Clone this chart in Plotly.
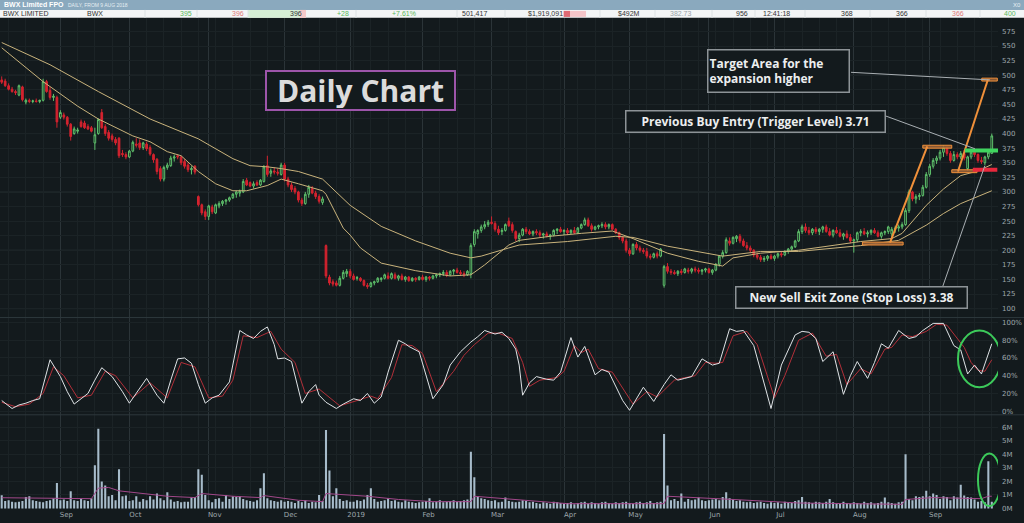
"""
BWX daily chart: candles + two moving averages, stochastic, volume
"""
import pandas as pd
import plotly.graph_objects as go
from plotly.subplots import make_subplots

# ---- data ----
holidays = ["2018-12-25", "2018-12-26", "2019-01-01", "2019-01-28",
            "2019-04-19", "2019-04-22", "2019-04-25", "2019-06-10"]

opens = [
    492, 490, 482, 476, 472, 466, 480, 454, 457, 455, 456, 455, 457, 489, 474, 462, 462,  # Aug
    428, 432, 428, 416, 400, 404, 420, 418, 412, 410, 384, 400, 436, 412, 402, 396, 390, 392, 366, 364,  # Sep
    360, 370, 382, 384, 376, 382, 376, 364, 356, 340, 322, 342, 345, 358, 362, 360, 352, 346, 338, 344, 292, 278, 266,  # Oct
    258, 274, 264, 276, 280, 284, 286, 290, 296, 298, 300, 320, 316, 310, 316, 312, 318, 345, 332, 336, 334, 330,  # Nov
    346, 322, 312, 306, 300, 286, 280, 296, 306, 298, 292, 282, 208, 154, 146, 144, 140, 152, 160,  # Dec
    164, 156, 152, 152, 148, 140, 138, 144, 146, 150, 152, 156, 152, 158, 152, 156, 150, 154, 148, 152, 150,  # Jan
    154, 150, 154, 152, 156, 158, 160, 162, 158, 164, 166, 162, 160, 158, 160, 210, 228, 234, 240, 244,  # Feb
    248, 246, 236, 232, 234, 250, 244, 232, 220, 226, 236, 232, 228, 232, 230, 226, 228, 224, 226, 234, 236,  # Mar
    232, 234, 230, 234, 230, 238, 244, 252, 242, 236, 240, 242, 244, 240, 244, 236, 230, 222, 216,  # Apr
    200, 194, 210, 204, 200, 198, 190, 188, 194, 190, 140, 172, 164, 162, 160, 164, 162, 166, 164, 168, 166, 164, 166,  # May
    168, 162, 166, 176, 190, 196, 216, 212, 220, 224, 216, 208, 204, 200, 192, 188, 184, 186, 190,  # Jun
    186, 190, 194, 192, 198, 202, 206, 216, 232, 240, 234, 230, 236, 232, 236, 240, 232, 226, 234, 230, 224, 228, 222,  # Jul
    216, 218, 230, 232, 228, 230, 234, 230, 224, 230, 232, 228, 236, 238, 240, 244, 268, 300, 288, 292, 294, 308,  # Aug
    330, 344, 354, 358, 368, 376, 366, 354, 364, 360, 366, 340, 360, 368, 364, 354, 350, 360, 366,  # Sep
]
highs = [
    498, 494, 486, 480, 475, 484, 482, 460, 460, 458, 460, 458, 494, 492, 480, 468, 465,
    440, 436, 430, 418, 412, 410, 424, 422, 416, 413, 410, 426, 442, 416, 406, 400, 394, 394, 372, 368,
    372, 388, 392, 390, 386, 386, 380, 366, 358, 344, 345, 350, 362, 364, 364, 362, 356, 350, 344, 346, 294, 280, 270,
    278, 278, 280, 284, 286, 288, 292, 298, 302, 304, 322, 324, 318, 318, 320, 322, 346, 362, 340, 342, 340, 350,
    350, 326, 316, 310, 302, 290, 300, 312, 310, 302, 296, 292, 210, 158, 150, 148, 156, 166, 168,
    168, 160, 156, 154, 150, 144, 146, 148, 154, 154, 160, 162, 162, 162, 158, 160, 156, 156, 154, 154, 156,
    158, 156, 156, 158, 160, 162, 166, 166, 166, 168, 170, 166, 164, 166, 212, 236, 236, 244, 250, 252,
    258, 250, 242, 238, 246, 256, 248, 234, 230, 238, 240, 236, 234, 236, 234, 230, 232, 228, 236, 238, 240,
    236, 238, 236, 240, 240, 246, 256, 256, 246, 242, 244, 248, 248, 246, 246, 238, 232, 224, 220,
    204, 212, 214, 208, 204, 204, 194, 196, 198, 204, 175, 178, 168, 166, 166, 168, 170, 170, 170, 172, 170, 168, 170,
    170, 168, 178, 192, 200, 222, 222, 224, 226, 228, 220, 214, 208, 202, 196, 192, 190, 192, 194,
    192, 196, 198, 200, 204, 208, 218, 236, 244, 246, 240, 238, 240, 238, 242, 244, 238, 236, 240, 236, 230, 234, 228,
    220, 232, 236, 238, 234, 236, 238, 234, 232, 234, 242, 240, 242, 244, 248, 272, 304, 302, 296, 298, 312, 334,
    348, 358, 362, 372, 380, 378, 370, 370, 368, 370, 372, 362, 372, 372, 366, 360, 362, 372, 400,
]
lows = [
    485, 480, 474, 470, 466, 464, 455, 450, 452, 452, 453, 452, 455, 470, 458, 456, 410,
    425, 424, 412, 388, 398, 400, 410, 408, 406, 402, 372, 398, 408, 396, 388, 386, 380, 358, 360, 356,
    358, 368, 376, 372, 372, 370, 362, 350, 330, 318, 318, 338, 343, 352, 356, 346, 340, 334, 330, 330, 275, 260, 252,
    252, 262, 262, 272, 276, 278, 283, 288, 290, 292, 298, 310, 308, 306, 310, 310, 316, 326, 326, 330, 328, 328,
    318, 308, 300, 296, 282, 276, 278, 290, 296, 288, 280, 278, 152, 140, 138, 138, 138, 150, 154,
    152, 148, 148, 146, 138, 134, 136, 140, 144, 146, 150, 150, 150, 150, 148, 148, 146, 146, 146, 146, 148,
    148, 146, 148, 150, 152, 154, 156, 154, 156, 158, 160, 156, 154, 156, 152, 206, 220, 230, 236, 240,
    244, 232, 226, 226, 232, 240, 230, 216, 214, 224, 228, 226, 224, 226, 222, 220, 222, 218, 224, 228, 230,
    226, 226, 228, 228, 228, 236, 242, 240, 232, 234, 236, 238, 236, 236, 234, 228, 218, 212, 196,
    190, 192, 200, 196, 194, 186, 184, 186, 186, 188, 136, 160, 158, 158, 156, 158, 160, 160, 160, 162, 160, 158, 162,
    160, 158, 164, 172, 186, 194, 208, 210, 214, 212, 206, 200, 196, 188, 184, 180, 180, 182, 184,
    182, 186, 188, 190, 194, 198, 204, 214, 228, 230, 226, 226, 228, 226, 230, 230, 224, 222, 228, 222, 218, 220, 212,
    196, 214, 224, 226, 222, 226, 228, 222, 220, 226, 228, 222, 230, 232, 236, 242, 264, 284, 280, 286, 292, 306,
    326, 340, 348, 354, 360, 362, 350, 352, 356, 356, 354, 336, 356, 360, 350, 348, 346, 356, 366,
]
closes = [
    488, 482, 476, 472, 470, 482, 458, 457, 455, 456, 455, 457, 489, 472, 462, 464, 420,
    436, 428, 416, 395, 408, 406, 412, 410, 408, 404, 398, 424, 410, 400, 392, 390, 384, 362, 364, 360,
    370, 385, 380, 376, 384, 374, 365, 355, 335, 322, 342, 346, 358, 360, 360, 350, 344, 338, 340, 334, 278, 264, 258,
    276, 266, 278, 280, 284, 286, 290, 296, 300, 301, 318, 312, 310, 314, 312, 320, 343, 330, 336, 334, 332, 346,
    322, 312, 304, 300, 286, 280, 296, 308, 298, 292, 284, 288, 156, 144, 142, 140, 152, 162, 164,
    156, 150, 153, 148, 140, 138, 144, 146, 152, 152, 158, 152, 160, 152, 156, 150, 154, 148, 152, 150, 154,
    150, 154, 152, 156, 158, 160, 162, 158, 164, 166, 162, 160, 158, 164, 208, 232, 234, 240, 244, 248,
    246, 236, 230, 234, 244, 242, 234, 220, 226, 236, 232, 228, 232, 230, 226, 228, 224, 226, 234, 236, 232,
    234, 230, 234, 230, 238, 244, 252, 242, 236, 240, 242, 244, 240, 244, 236, 230, 222, 216, 200,
    194, 210, 204, 200, 198, 190, 188, 194, 190, 202, 172, 164, 162, 160, 164, 162, 168, 164, 168, 166, 164, 166, 168,
    162, 166, 176, 190, 196, 218, 212, 222, 224, 216, 208, 204, 200, 192, 188, 184, 186, 190, 186,
    190, 194, 192, 198, 202, 206, 216, 232, 240, 234, 230, 236, 232, 236, 240, 232, 226, 234, 230, 224, 228, 222, 216,
    218, 230, 232, 228, 230, 234, 230, 224, 230, 232, 240, 236, 238, 240, 244, 268, 300, 288, 292, 294, 308, 330,
    344, 354, 358, 368, 376, 366, 354, 364, 360, 366, 358, 360, 368, 364, 354, 352, 360, 368, 396,
]
volume_m = [
    0.98, 0.55, 0.6, 0.5, 0.45, 0.5, 0.55, 0.85, 0.9, 0.6, 0.55, 0.5, 0.45, 0.55, 0.6, 0.75, 1.88,
    0.6, 0.65, 0.55, 1.27, 0.6, 0.55, 0.7, 0.6, 0.55, 0.75, 3.2, 5.9, 2.0, 1.7, 0.9, 1.0, 0.6, 2.9, 0.9, 0.95,
    0.55, 0.6, 0.9, 0.5, 0.7, 0.6, 0.9, 0.65, 1.1, 0.75, 0.6, 1.2, 0.65, 0.5, 0.55, 0.45, 0.5, 0.5, 0.8, 0.85, 2.9, 2.5, 1.0,
    0.6, 0.45, 0.7, 0.75, 0.5, 1.0, 0.7, 0.9, 0.85, 0.9, 0.7, 0.6, 0.55, 0.5, 0.6, 1.5, 2.6, 0.75, 0.6, 0.55, 0.5, 0.6,
    0.5, 0.55, 0.5, 0.4, 0.55, 0.45, 0.6, 0.4, 0.5, 0.45, 1.0, 0.55, 5.8, 2.8, 0.9, 1.5, 0.7, 0.55, 0.6,
    0.5, 0.5, 0.6, 0.55, 0.65, 1.0, 1.5, 0.7, 0.5, 0.55, 0.6, 0.75, 0.55, 0.6, 0.5, 0.45, 0.6, 0.5, 0.45, 0.4, 0.45,
    0.5, 0.55, 0.75, 0.45, 0.5, 0.6, 0.45, 0.5, 0.55, 0.6, 0.5, 0.55, 0.6, 0.65, 4.2, 2.3, 0.9, 0.75, 0.7, 0.6,
    0.55, 0.6, 0.45, 0.5, 0.8, 0.55, 0.5, 0.45, 0.5, 0.6, 0.55, 0.45, 0.5, 0.4, 0.35, 0.45, 0.4, 0.35, 0.5, 0.45, 0.4,
    0.35, 0.4, 0.45, 0.3, 0.4, 0.45, 0.5, 0.35, 0.45, 0.4, 0.35, 0.45, 0.5, 0.4, 0.35, 0.45, 0.4, 0.45, 0.5,
    0.4, 0.35, 0.45, 0.5, 0.4, 0.45, 0.55, 0.4, 0.45, 0.5, 5.5, 1.7, 0.6, 0.7, 0.55, 1.1, 0.5, 0.7, 0.6, 0.65, 0.8, 0.6, 0.55,
    0.6, 0.65, 0.7, 0.6, 0.85, 1.2, 0.75, 0.7, 0.55, 0.6, 0.5, 0.45, 0.5, 0.4, 0.45, 0.5, 0.4, 0.35, 0.45,
    0.4, 0.45, 0.35, 0.5, 0.45, 0.4, 0.55, 0.6, 0.85, 0.5, 0.45, 0.4, 0.5, 0.45, 0.4, 0.5, 0.7, 0.45, 0.4, 0.35, 0.5, 0.4, 0.35,
    0.45, 0.4, 0.35, 0.5, 0.4, 0.45, 0.35, 0.4, 0.5, 0.8, 0.45, 0.4, 0.35, 0.45, 0.5, 4.0, 0.7, 0.6, 0.9, 0.85, 0.9, 1.3,
    0.9, 1.1, 1.0, 0.7, 0.9, 0.85, 0.6, 0.9, 0.8, 1.75, 0.95, 0.85, 0.8, 0.65, 0.5, 0.55, 0.45, 3.5, 0.5,
]

# moving averages, read as (day index, price) points
fast_ma_day = [0, 12, 22, 28, 38, 43, 48, 52, 57, 62, 67, 71, 77, 81, 86, 89, 93, 94, 99, 101, 104, 110,
               120, 130, 136, 140, 147, 150, 159, 168, 177, 183, 193, 202, 209, 212, 220, 231, 240,
               249, 258, 261, 268, 273, 278, 283, 287]
fast_ma_val = [547, 489, 447, 425, 396, 386, 369, 362, 335, 314, 302, 302, 311, 322, 314, 309, 302, 296,
               238, 226, 204, 178, 165, 156, 158, 175, 209, 217, 224, 229, 233, 220, 195, 181, 173, 187,
               195, 200, 207, 215, 220, 229, 277, 305, 328, 336, 347]
slow_ma_day = [0, 14, 28, 43, 57, 67, 72, 77, 81, 86, 93, 101, 110, 120, 130, 136, 139, 144, 147, 150,
               164, 178, 183, 193, 202, 209, 220, 231, 249, 260, 268, 273, 278, 283, 287]
slow_ma_val = [556, 518, 472, 425, 391, 357, 345, 343, 340, 335, 322, 277, 241, 216, 195, 187, 190, 198,
               204, 209, 215, 224, 222, 207, 198, 190, 198, 198, 208, 217, 243, 263, 280, 292, 302]

# stochastic %K (white) and %D (red)
stoch_k_day = [0, 3, 5, 7, 9, 11, 14, 17, 19, 21, 23, 25, 27, 29, 32, 35, 37, 40, 42, 45, 47, 49, 51,
               53, 55, 57, 59, 61, 63, 66, 69, 71, 73, 75, 77, 79, 80, 82, 84, 87, 89, 91, 92, 94,
               97, 99, 102, 104, 106, 108, 110, 112, 115, 117, 118, 121, 123, 125, 128, 130, 133,
               136, 138, 140, 143, 145, 147, 149, 150, 151, 153, 155, 158, 160, 162, 165, 167, 169,
               172, 174, 176, 178, 180, 182, 184, 186, 189, 192, 194, 196, 198, 200, 203, 206, 208,
               211, 213, 215, 218, 221, 223, 226, 230, 232, 234, 236, 238, 241, 244, 246, 248, 251,
               253, 255, 257, 260, 263, 265, 267, 270, 273, 276, 278, 280, 282, 284, 287]
stoch_k_val = [12, 3, 7, 9, 12, 14, 58, 39, 22, 8, 14, 20, 35, 49, 39, 22, 9, 26, 37, 18, 9, 35, 59,
               60, 54, 30, 9, 15, 18, 33, 91, 86, 82, 90, 95, 75, 59, 60, 56, 9, 22, 30, 18, 10,
               3, 8, 14, 12, 20, 9, 16, 44, 80, 76, 73, 67, 40, 14, 30, 52, 67,
               78, 84, 91, 87, 89, 82, 70, 52, 18, 32, 39, 36, 35, 44, 83, 61, 73,
               41, 47, 44, 27, 12, 1, 14, 27, 11, 30, 41, 35, 37, 39, 59, 52, 54,
               93, 90, 91, 74, 30, 3, 52, 86, 90, 89, 82, 56, 67, 19, 40, 56, 37,
               55, 76, 71, 91, 82, 84, 91, 99, 99, 74, 69, 42, 52, 42, 76]
stoch_d_day = [0, 4, 8, 12, 15, 18, 22, 26, 30, 33, 38, 43, 48, 52, 56, 60, 64, 67, 70, 74, 78, 81, 85,
               88, 92, 95, 98, 103, 107, 109, 113, 116, 119, 122, 126, 131, 134, 137, 141, 144, 148,
               151, 153, 156, 161, 163, 166, 168, 170, 173, 177, 179, 183, 187, 190, 195, 197, 201,
               204, 207, 209, 212, 216, 219, 224, 227, 231, 235, 239, 242, 245, 249, 252, 256, 258,
               261, 264, 268, 271, 274, 277, 279, 281, 283, 285, 287]
stoch_d_val = [10, 5, 8, 20, 50, 40, 15, 18, 45, 40, 15, 32, 15, 55, 50, 15, 17, 35, 85, 83, 90, 70, 55,
               20, 25, 15, 6, 12, 17, 14, 38, 75, 74, 65, 22, 45, 63, 75, 88, 88, 82,
               55, 28, 35, 38, 45, 74, 66, 70, 48, 44, 32, 8, 22, 16, 35, 37, 40,
               55, 54, 55, 85, 90, 75, 15, 40, 80, 88, 62, 64, 30, 48, 42, 70, 72,
               86, 84, 90, 98, 97, 82, 72, 55, 46, 45, 58]

# volume moving average (millions)
vol_ma_day = [0, 26, 28, 31, 34, 38, 48, 56, 58, 67, 75, 76, 86, 93, 94, 106, 115, 125, 136, 137, 148,
              164, 192, 193, 212, 231, 261, 262, 270, 284, 286, 287]
vol_ma_val = [0.79, 0.72, 1.5, 1.55, 1.3, 1.2, 0.9, 0.8, 1.1, 0.9, 0.8, 0.95, 0.6, 0.5, 1.1, 0.9, 0.66,
              0.5, 0.5, 0.9, 0.66, 0.35, 0.35, 0.9, 0.66, 0.4, 0.3, 0.66, 0.8, 0.72, 0.9, 0.9]

# ---- trading calendar / axis ticks ----
dates = pd.bdate_range("2018-08-09", "2019-09-26")
dates = dates[~dates.isin(pd.to_datetime(holidays))]
n = min(len(dates), len(closes))
days = list(range(n))
month_start = [i for i in range(1, n) if dates[i].month != dates[i - 1].month]
month_text = [str(dates[i].year) if dates[i].month == 1 else dates[i].strftime("%b") for i in month_start]

BG = "#131a1d"
GRID = "#1b2326"
GRID_MAJ = "#2b3438"
TICK = dict(family="DejaVu Sans", size=7, color="#9ea7ac")
GREEN = "#5fc26c"
RED = "#d5232f"
MA = "#c9b37c"

fig = make_subplots(rows=3, cols=1, shared_xaxes=True, vertical_spacing=0)

fig.add_trace(go.Candlestick(
    x=days, open=opens[:n], high=highs[:n], low=lows[:n], close=closes[:n],
    increasing=dict(line=dict(color=GREEN, width=1), fillcolor=BG),
    decreasing=dict(line=dict(color=RED, width=1), fillcolor=RED),
    whiskerwidth=0, showlegend=False, hoverinfo="skip"), row=1, col=1)
fig.add_trace(go.Scatter(x=slow_ma_day, y=slow_ma_val, mode="lines", line=dict(color=MA, width=1),
                         showlegend=False, hoverinfo="skip"), row=1, col=1)
fig.add_trace(go.Scatter(x=fast_ma_day, y=fast_ma_val, mode="lines", line=dict(color=MA, width=1),
                         showlegend=False, hoverinfo="skip"), row=1, col=1)

fig.add_trace(go.Scatter(x=stoch_d_day, y=stoch_d_val, mode="lines", line=dict(color="#b3303a", width=1),
                         showlegend=False, hoverinfo="skip"), row=2, col=1)
fig.add_trace(go.Scatter(x=stoch_k_day, y=stoch_k_val, mode="lines", line=dict(color="#dfe3e6", width=1),
                         showlegend=False, hoverinfo="skip"), row=2, col=1)

fig.add_trace(go.Bar(x=days, y=volume_m[:n], marker=dict(color="#a7bccb", line=dict(width=0)),
                     showlegend=False, hoverinfo="skip"), row=3, col=1)
fig.add_trace(go.Scatter(x=vol_ma_day, y=vol_ma_val, mode="lines", line=dict(color="#a2488a", width=1),
                         showlegend=False, hoverinfo="skip"), row=3, col=1)

H = 523.0
fig.update_layout(
    width=1024, height=523, margin=dict(l=0, r=0, t=0, b=0),
    paper_bgcolor=BG, plot_bgcolor=BG, bargap=0.4,
    yaxis=dict(domain=[1 - 320 / H, 1 - 18 / H], range=[84.7, 598.3]),
    yaxis2=dict(domain=[1 - 418 / H, 1 - 320 / H], range=[-4.1, 105.6]),
    yaxis3=dict(domain=[1 - 513 / H, 1 - 418 / H], range=[-0.05, 6.93]),
)
for ax in ("xaxis", "xaxis2", "xaxis3"):
    fig.layout[ax].update(domain=[0, 998 / 1024], range=[-0.5, 288.8], tickmode="array",
                          tickvals=month_start, ticktext=month_text, showgrid=True,
                          gridcolor=GRID_MAJ, gridwidth=1, zeroline=False, showline=False,
                          showticklabels=False, tickfont=TICK, rangeslider=dict(visible=False),
                          minor=dict(showgrid=True, dtick=5, tick0=2, gridcolor=GRID))
fig.layout.xaxis3.update(showticklabels=True, ticks="", ticklen=0, ticklabelshift=6, ticklabelstandoff=0)

fig.update_yaxes(side="right", showgrid=True, gridcolor=GRID, zeroline=False, showline=False,
                 tickfont=TICK, ticks="", ticklen=0, ticklabelstandoff=3)
fig.layout.yaxis.update(tickmode="array", tickvals=list(range(100, 576, 25)))
fig.layout.yaxis2.update(tickmode="array", tickvals=[0, 20, 40, 60, 80, 100],
                         ticktext=["0%", "20%", "40%", "60%", "80%", "100%"])
fig.layout.yaxis3.update(tickmode="array", tickvals=[0, 1, 2, 3, 4, 5, 6],
                         ticktext=["0M", "1M", "2M", "3M", "4M", "5M", "6M"])

shapes = []
# brighter price grid every 100
for p in range(100, 501, 100):
    shapes.append(dict(type="line", xref="x", yref="y", x0=-0.5, x1=288.8, y0=p, y1=p,
                       line=dict(color=GRID_MAJ, width=1), layer="below"))
# panel separators
for yy in (320, 418):
    shapes.append(dict(type="line", xref="paper", yref="paper", x0=0, x1=1, y0=1 - yy / H, y1=1 - yy / H,
                       line=dict(color="#2e383c", width=1)))

# header bars
shapes.append(dict(type="rect", xref="paper", yref="paper", x0=0, x1=1, y0=1 - 10 / H, y1=1,
                   fillcolor="#8aa9be", line=dict(width=0)))
shapes.append(dict(type="rect", xref="paper", yref="paper", x0=0, x1=1, y0=1 - 18 / H, y1=1 - 10 / H,
                   fillcolor="#f3f5f6", line=dict(width=0)))
shapes.append(dict(type="rect", xref="paper", yref="paper", x0=248 / 1024, x1=300 / 1024,
                   y0=1 - 18 / H, y1=1 - 10 / H, fillcolor="#d6efd6", line=dict(width=0)))
shapes.append(dict(type="rect", xref="paper", yref="paper", x0=300 / 1024, x1=306 / 1024,
                   y0=1 - 18 / H, y1=1 - 10 / H, fillcolor="#f6c9c9", line=dict(width=0)))
shapes.append(dict(type="rect", xref="paper", yref="paper", x0=563 / 1024, x1=586 / 1024,
                   y0=1 - 17 / H, y1=1 - 11 / H, fillcolor="#f4c4c8", line=dict(width=0)))
shapes.append(dict(type="rect", xref="paper", yref="paper", x0=564 / 1024, x1=570 / 1024,
                   y0=1 - 17 / H, y1=1 - 11 / H, fillcolor="#e06a74", line=dict(width=0)))
for sx in (145, 197, 248, 356, 457, 505, 600, 655, 712, 755, 805, 870, 926, 980):
    shapes.append(dict(type="line", xref="paper", yref="paper", x0=sx / 1024, x1=sx / 1024,
                       y0=1 - 18 / H, y1=1 - 10 / H, line=dict(color="#dde2e4", width=1)))

# analyst drawings
ORANGE = "#f0903a"
BROWN = "rgba(150,95,55,0.9)"
for x0, x1, y0, y1 in [(249.5, 261.3, 209, 214), (267.0, 275.4, 375, 380),
                       (275.4, 282.7, 333, 338), (284.1, 288.6, 490, 495)]:
    shapes.append(dict(type="rect", xref="x", yref="y", x0=x0, x1=x1, y0=y0, y1=y1,
                       fillcolor=BROWN, line=dict(color=ORANGE, width=1)))
shapes.append(dict(type="line", xref="x", yref="y", x0=257.5, y0=213, x1=268.3, y1=378,
                   line=dict(color=ORANGE, width=2)))
shapes.append(dict(type="line", xref="x", yref="y", x0=277.2, y0=335, x1=285.9, y1=493,
                   line=dict(color=ORANGE, width=2)))
shapes.append(dict(type="line", xref="x", yref="y", x0=279.2, y0=371, x1=288.8, y1=371,
                   line=dict(color="#3fd45e", width=4)))
shapes.append(dict(type="line", xref="x", yref="y", x0=281.5, y0=338, x1=288.6, y1=338,
                   line=dict(color="#e8283c", width=4)))
# leader lines
LEAD = dict(color="#a9afb3", width=1)
shapes.append(dict(type="line", xref="x", yref="y", x0=246.2, y0=505, x1=286.5, y1=492, line=LEAD))
shapes.append(dict(type="line", xref="x", yref="y", x0=256.3, y0=430, x1=282.1, y1=374, line=LEAD))
shapes.append(dict(type="line", xref="x", yref="y", x0=272.6, y0=135, x1=285.0, y1=345, line=LEAD))
# green circles
shapes.append(dict(type="circle", xref="x2", yref="y2", x0=277.2, x1=289.6, y0=27, y1=91,
                   line=dict(color="#3cc95a", width=2)))
shapes.append(dict(type="circle", xref="x3", yref="y3", x0=283.0, x1=289.6, y0=0.17, y1=4.07,
                   line=dict(color="#3cc95a", width=2)))
fig.update_layout(shapes=shapes)

BOX = dict(color="#eceeef", family="Open Sans", size=12, weight="bold")
annotations = [
    dict(x=104, y=473.3, xref="x", yref="y", text="Daily Chart", showarrow=False,
         font=dict(color="#dcdcdc", family="Open Sans", size=30, weight="bold"),
         bgcolor=BG, bordercolor="#9d55aa", borderwidth=2, borderpad=1, width=185, height=35),
    dict(x=225.3, y=508, xref="x", yref="y", text="Target Area for the<br>expansion higher",
         showarrow=False, align="left", font=BOX, bgcolor=BG, bordercolor="#8d9397",
         borderwidth=1.5, borderpad=1, width=138, height=39),
    dict(x=218.5, y=421.4, xref="x", yref="y", text="Previous Buy Entry (Trigger Level) 3.71",
         showarrow=False, font=BOX, bgcolor=BG, bordercolor="#8d9397",
         borderwidth=1.5, borderpad=1, width=256, height=18),
    dict(x=246.3, y=119.6, xref="x", yref="y", text="New Sell Exit Zone (Stop Loss) 3.38",
         showarrow=False, font=BOX, bgcolor=BG, bordercolor="#8d9397",
         borderwidth=1.5, borderpad=1, width=228, height=18),
]


# header text
def head(x, y, text, color, anchor="center", size=7, bold=False):
    annotations.append(dict(x=x / 1024, y=1 - y / H, xref="paper", yref="paper", text=text,
                            showarrow=False, xanchor=anchor, yanchor="middle",
                            font=dict(family="Liberation Sans", size=size, color=color,
                                      weight="bold" if bold else "normal")))


head(2, 5, "BWX Limited FPO", "#ffffff", "left", 7, True)
head(66, 5.5, "DAILY, FROM 9 AUG 2018", "#e6eef3", "left", 5)
head(1017, 5, "X0", "#e6eef3", "center", 6)
row = [(1, "BWX LIMITED", "#333333", "left"), (85, "BWX", "#333333", "left"),
       (186, "395", "#5cb85c", "center"), (238, "396", "#e07a7a", "center"),
       (296, "396", "#333333", "center"), (343, "+28", "#5cb85c", "center"),
       (404, "+7.61%", "#5cb85c", "center"), (474, "501,417", "#333333", "center"),
       (545, "$1,919,091", "#333333", "center"), (629, "$492M", "#333333", "center"),
       (681, "382.73", "#9aa3a8", "center"), (742, "956", "#333333", "center"),
       (776, "12:41:18", "#333333", "center"), (847, "368", "#333333", "center"),
       (902, "366", "#333333", "center"), (958, "366", "#e07a7a", "center"),
       (1010, "400", "#5cb85c", "center")]
for x, t, c, a in row:
    head(x, 14, t, c, a, 7)

fig.update_layout(annotations=annotations)

fig.write_html("out.html", config={"displayModeBar": False},
               post_script="document.body.style.margin='0';")
